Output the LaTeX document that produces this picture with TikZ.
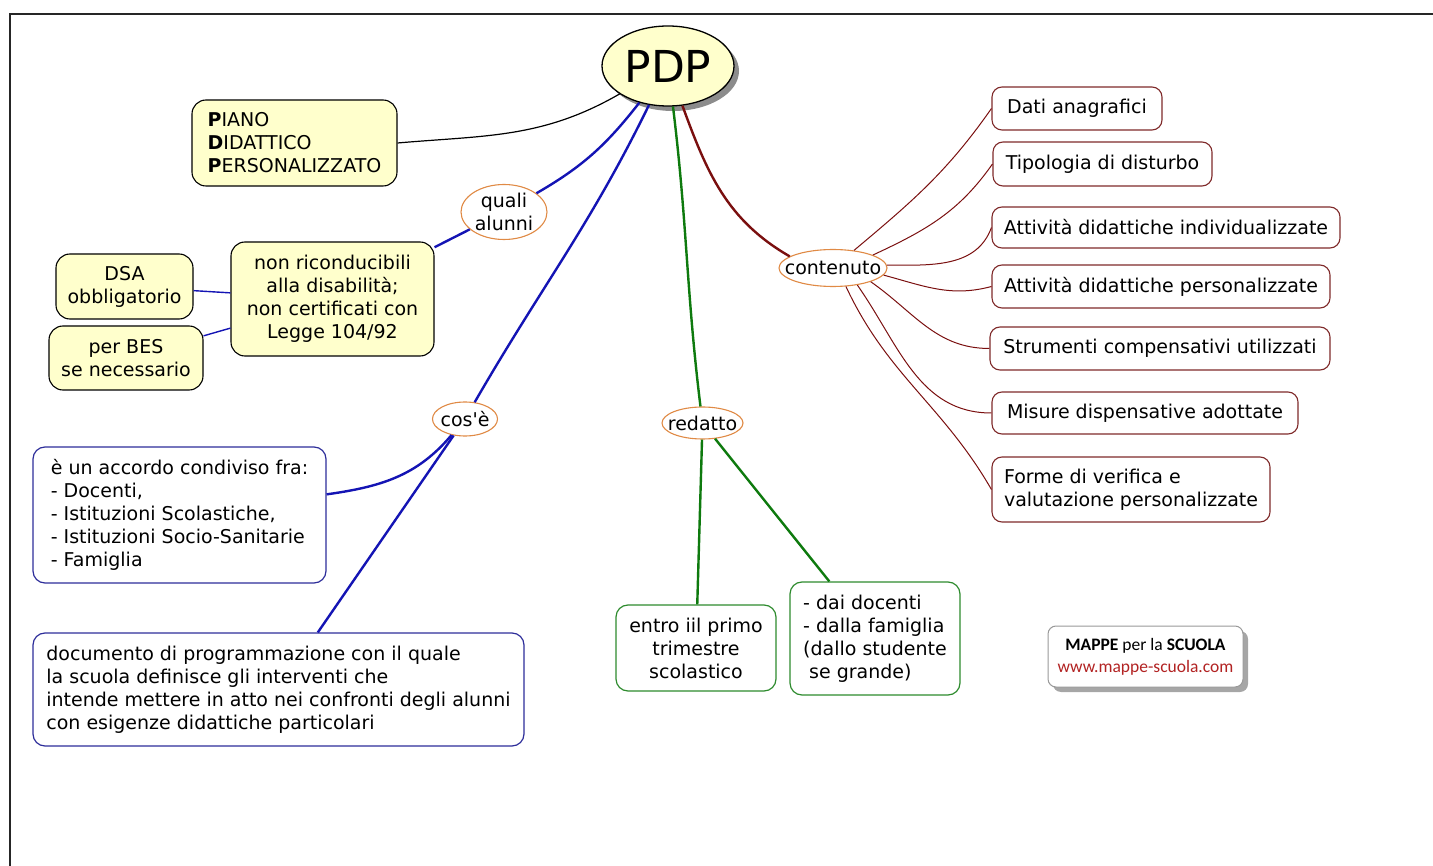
\documentclass[tikz,border=0pt]{standalone}
\usepackage{fontspec}
\setmainfont{DejaVu Sans}
\newfontfamily\logofont{Carlito}
\usetikzlibrary{shapes.geometric, shadows}
\definecolor{mapyellow}{HTML}{FFFFCC}
\definecolor{toporange}{HTML}{E08A45}
\definecolor{lineblue}{HTML}{1414B4}
\definecolor{boxblue}{HTML}{2E2E9A}
\definecolor{linegreen}{HTML}{0E7A0E}
\definecolor{boxgreen}{HTML}{2E8B2E}
\definecolor{linered}{HTML}{7A0F0F}
\definecolor{boxred}{HTML}{7F2A2A}
\definecolor{logored}{HTML}{B22222}
\tikzset{base/.style={font=\fontsize{19}{23}\selectfont, inner sep=0pt},
  root/.style={ellipse, draw=black, line width=1.3pt, fill=mapyellow, inner sep=0pt,
    drop shadow={shadow xshift=5pt, shadow yshift=-5pt, fill=black!45, opacity=1},
    font=\fontsize{44}{50}\selectfont},
  topic/.style={base, ellipse, draw=toporange, line width=1.1pt, fill=white, inner xsep=-12pt, inner ysep=-6pt, align=center},
  yellowbox/.style={base, draw=black, line width=1.1pt, fill=mapyellow, rounded corners=14pt, align=center},
  bluebox/.style={base, draw=boxblue, line width=1.2pt, fill=white, rounded corners=12pt, align=left},
  greenbox/.style={base, draw=boxgreen, line width=1.2pt, fill=white, rounded corners=12pt},
  redbox/.style={base, draw=boxred, line width=1.1pt, fill=white, rounded corners=10pt, align=left},
  logobox/.style={draw=black!40, line width=1pt, fill=white, rounded corners=8pt, inner sep=0pt, align=center,
    drop shadow={shadow xshift=5pt, shadow yshift=-5pt, fill=black!35, opacity=1},
    font=\logofont\fontsize{17.5}{22}\selectfont},
  blackline/.style={draw=black, line width=1.2pt},
  blueline/.style={draw=lineblue, line width=2.4pt},
  bluethin/.style={draw=lineblue, line width=1.4pt},
  greenline/.style={draw=linegreen, line width=2.4pt},
  redline/.style={draw=linered, line width=2.4pt},
  redthin/.style={draw=linered, line width=1pt},
  frame/.style={draw=black!85, line width=2.2pt}}

\begin{document}
\begin{tikzpicture}[x=1pt, y=1pt]
\useasboundingbox (0,0) rectangle (1433,-866);
\draw[frame] (10,-866) -- (10,-14) -- (1433,-14);

\node[root, minimum width=132, minimum height=80] (pdp) at (668,-66) {PDP};
\node[yellowbox, align=left, minimum width=205, minimum height=86] (piano) at (294.5,-143)
  {\textbf{P}IANO\\\textbf{D}IDATTICO\\\textbf{P}ERSONALIZZATO};
\node[topic, minimum width=86, minimum height=55] (quali) at (504,-212) {quali\\alunni};
\node[yellowbox, minimum width=203, minimum height=114] (nonric) at (332.5,-299)
  {non riconducibili\\alla disabilità;\\non certificati con\\Legge 104/92};
\node[yellowbox, minimum width=137, minimum height=65] (dsa) at (124.5,-286.5) {DSA\\obbligatorio};
\node[yellowbox, minimum width=154, minimum height=64] (bes) at (126,-358) {per BES\\se necessario};
\node[topic, minimum width=65, minimum height=34] (cose) at (465,-419) {cos\textquotesingle è};
\node[bluebox, minimum width=293, minimum height=136] (accordo) at (179.5,-515)
  {è un accordo condiviso fra:\\- Docenti,\\- Istituzioni Scolastiche,\\- Istituzioni Socio-Sanitarie\\- Famiglia};
\node[bluebox, minimum width=491, minimum height=113] (docum) at (278.5,-689.5)
  {documento di programmazione con il quale\\la scuola definisce gli interventi che\\intende mettere in atto nei confronti degli alunni\\con esigenze didattiche particolari};
\node[topic, minimum width=81, minimum height=32] (redatto) at (702.5,-423) {redatto};
\node[greenbox, align=center, minimum width=160, minimum height=86] (entro) at (696,-648)
  {entro iil primo\\trimestre\\scolastico};
\node[greenbox, align=left, minimum width=170, minimum height=113] (dai) at (875,-638.5)
  {- dai docenti\\- dalla famiglia\\(dallo studente\\\ se grande)};
\node[topic, minimum width=108, minimum height=37] (contenuto) at (833,-268) {contenuto};
\node[redbox, minimum width=170, minimum height=43] (dati) at (1077,-108.5) {Dati anagrafici};
\node[redbox, minimum width=219, minimum height=44] (tipo) at (1102.5,-164) {Tipologia di disturbo};
\node[redbox, minimum width=348, minimum height=41] (attind) at (1166,-227.5) {Attività didattiche individualizzate};
\node[redbox, minimum width=338, minimum height=43] (attpers) at (1161,-286.5) {Attività didattiche personalizzate};
\node[redbox, minimum width=340, minimum height=43] (strum) at (1160,-348.5) {Strumenti compensativi utilizzati};
\node[redbox, minimum width=306, minimum height=42] (misure) at (1145,-413) {Misure dispensative adottate};
\node[redbox, minimum width=278, minimum height=65] (forme) at (1131,-489.5) {Forme di verifica e\\valutazione personalizzate};
\node[logobox, minimum width=195, minimum height=61] (logo) at (1145.5,-656.5)
  {\textbf{MAPPE} per la \textbf{SCUOLA}\\\textcolor{logored}{www.mappe-scuola.com}};

\draw (piano.east) edge[blackline, out=5, in=210] (pdp)
      (pdp) edge[blueline, out=232, in=30] (quali)
      (quali) edge[blueline] (nonric)
      (dsa) edge[bluethin] (nonric)
      (bes) edge[bluethin] (nonric)
      (pdp) edge[blueline, out=244, in=60] (cose)
      (cose) edge[blueline, out=230, in=8] (accordo)
      (cose) edge[blueline] (docum)
      (pdp) edge[greenline, out=-83, in=97] (redatto)
      (redatto) edge[greenline] (entro)
      (redatto) edge[greenline] (dai)
      (pdp) edge[redline, out=-70, in=150] (contenuto.165)
      (contenuto.40) edge[redthin, out=40, in=235] (dati.west)
      (contenuto.18) edge[redthin, out=25, in=235] (tipo.west)
      (contenuto.3) edge[redthin, out=0, in=250] (attind.west)
      (contenuto.-8) edge[redthin, out=-15, in=195] (attpers.west)
      (contenuto.-20) edge[redthin, out=-35, in=180] (strum.west)
      (contenuto.-35) edge[redthin, out=-55, in=180] (misure.west)
      (contenuto.-55) edge[redthin, out=-65, in=120] (forme.west);
\end{tikzpicture}
\end{document}
